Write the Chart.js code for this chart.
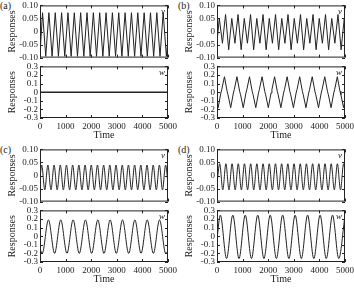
<!DOCTYPE html>
<html>
<head>
<meta charset="utf-8">
<script src="https://cdn.jsdelivr.net/npm/chart.js@4.4.0/dist/chart.umd.min.js"></script>
<style>
  html, body { margin: 0; padding: 0; background: #fff; }
  body { width: 354px; height: 289px; position: relative; overflow: hidden; font-family: "Liberation Serif", "DejaVu Serif", serif; }
  canvas { position: absolute; }
  .tag { position: absolute; font-size: 10px; line-height: 12px; color: #222; }
</style>
</head>
<body>
<div class="tag" style="left:0px;top:0px">(a)</div>
<div class="tag" style="left:178px;top:0px">(b)</div>
<div class="tag" style="left:0px;top:144px">(c)</div>
<div class="tag" style="left:178px;top:144px">(d)</div>

<canvas id="a-v"></canvas><canvas id="a-w"></canvas>
<canvas id="b-v"></canvas><canvas id="b-w"></canvas>
<canvas id="c-v"></canvas><canvas id="c-w"></canvas>
<canvas id="d-v"></canvas><canvas id="d-w"></canvas>

<script>
// EIXOS
const vTicks = [-0.10, -0.05, 0, 0.05, 0.10];
const vTickLabels = ['-0.10', '-0.05', '0', '0.05', '0.10'];
const wTicks = [-0.3, -0.2, -0.1, 0, 0.1, 0.2, 0.3];
const wTickLabels = ['-0.3', '-0.2', '-0.1', '0', '0.1', '0.2', '0.3'];
const timeTicks = [0, 1000, 2000, 3000, 4000, 5000];
const timeTickLabels = ['0', '1000', '2000', '3000', '4000', '5000'];

// (a) - picos e vales
const aVTime = [0, 100, 224, 348, 472, 596, 720, 844, 968, 1092, 1216,
  1340, 1464, 1588, 1712, 1836, 1960, 2084, 2208, 2332, 2456,
  2580, 2704, 2828, 2952, 3076, 3200, 3324, 3448, 3572, 3696,
  3820, 3944, 4068, 4192, 4316, 4440, 4564, 4688, 4812, 4936, 5000];
const aVResp = [-0.085, 0.072, -0.095, 0.072, -0.095, 0.072, -0.095, 0.072, -0.095, 0.072, -0.095,
  0.072, -0.095, 0.072, -0.095, 0.072, -0.095, 0.072, -0.095, 0.072, -0.095,
  0.072, -0.095, 0.072, -0.095, 0.072, -0.095, 0.072, -0.095, 0.072, -0.095,
  0.072, -0.095, 0.072, -0.095, 0.072, -0.095, 0.072, -0.095, 0.072, -0.095, -0.03];
const aWTime = [0, 5000];
const aWResp = [0, 0];

// (b)
const bVTime = [0, 90, 212, 334, 456, 578, 700, 822, 944, 1066, 1188,
  1310, 1432, 1554, 1676, 1798, 1920, 2042, 2164, 2286, 2408,
  2530, 2652, 2774, 2896, 3018, 3140, 3262, 3384, 3506, 3628,
  3750, 3872, 3994, 4116, 4238, 4360, 4482, 4604, 4726, 4848, 4970, 5000];
const bVResp = [-0.04, 0.05, -0.045, 0.065, -0.07, 0.05, -0.045, 0.065, -0.07, 0.05, -0.045,
  0.065, -0.07, 0.05, -0.045, 0.065, -0.07, 0.05, -0.045, 0.065, -0.07,
  0.05, -0.045, 0.065, -0.07, 0.05, -0.045, 0.065, -0.07, 0.05, -0.045,
  0.065, -0.07, 0.05, -0.045, 0.065, -0.07, 0.05, -0.045, 0.065, -0.07, 0.05, 0.03];
const bWTime = [0,
  45, 150, 185, 290, 395, 430,
  535, 640, 675, 780, 885, 920,
  1025, 1130, 1165, 1270, 1375, 1410,
  1515, 1620, 1655, 1760, 1865, 1900,
  2005, 2110, 2145, 2250, 2355, 2390,
  2495, 2600, 2635, 2740, 2845, 2880,
  2985, 3090, 3125, 3230, 3335, 3370,
  3475, 3580, 3615, 3720, 3825, 3860,
  3965, 4070, 4105, 4210, 4315, 4350,
  4455, 4560, 4595, 4700, 4805, 4840,
  4945, 5000];
const bWResp = [-0.12,
  -0.18, -0.01, 0.03, 0.18, 0.01, -0.03,
  -0.18, -0.01, 0.03, 0.18, 0.01, -0.03,
  -0.18, -0.01, 0.03, 0.18, 0.01, -0.03,
  -0.18, -0.01, 0.03, 0.18, 0.01, -0.03,
  -0.18, -0.01, 0.03, 0.18, 0.01, -0.03,
  -0.18, -0.01, 0.03, 0.18, 0.01, -0.03,
  -0.18, -0.01, 0.03, 0.18, 0.01, -0.03,
  -0.18, -0.01, 0.03, 0.18, 0.01, -0.03,
  -0.18, -0.01, 0.03, 0.18, 0.01, -0.03,
  -0.18, -0.01, 0.03, 0.18, 0.01, -0.03,
  -0.18, -0.09];

// (c)
const cVTime = [0, 66, 187, 308, 429, 550, 671, 792, 913, 1034, 1155,
  1276, 1397, 1518, 1639, 1760, 1881, 2002, 2123, 2244, 2365,
  2486, 2607, 2728, 2849, 2970, 3091, 3212, 3333, 3454, 3575,
  3696, 3817, 3938, 4059, 4180, 4301, 4422, 4543, 4664, 4785, 4906, 5000];
const cVResp = [-0.01, 0.04, -0.055, 0.04, -0.055, 0.04, -0.055, 0.04, -0.055, 0.04, -0.055,
  0.04, -0.055, 0.04, -0.055, 0.04, -0.055, 0.04, -0.055, 0.04, -0.055,
  0.04, -0.055, 0.04, -0.055, 0.04, -0.055, 0.04, -0.055, 0.04, -0.055,
  0.04, -0.055, 0.04, -0.055, 0.04, -0.055, 0.04, -0.055, 0.04, -0.055, 0.04, -0.03];
const cWTime = [0, 88, 329, 570, 811, 1052, 1294, 1535, 1776, 2017, 2258,
  2500, 2741, 2982, 3223, 3464, 3705, 3947, 4188, 4429, 4670, 4911, 5000];
const cWResp = [-0.15, -0.2, 0.19, -0.2, 0.19, -0.2, 0.19, -0.2, 0.19, -0.2, 0.19,
  -0.2, 0.19, -0.2, 0.19, -0.2, 0.19, -0.2, 0.19, -0.2, 0.19, -0.2, -0.17];

// (d)
const dVTime = [0, 105, 226, 347, 468, 589, 710, 831, 952, 1073, 1194,
  1315, 1436, 1557, 1678, 1799, 1920, 2041, 2162, 2283, 2404,
  2525, 2646, 2767, 2888, 3009, 3130, 3251, 3372, 3493, 3614,
  3735, 3856, 3977, 4098, 4219, 4340, 4461, 4582, 4703, 4824, 4945, 5000];
const dVResp = [-0.03, 0.045, -0.055, 0.045, -0.055, 0.045, -0.055, 0.045, -0.055, 0.045, -0.055,
  0.045, -0.055, 0.045, -0.055, 0.045, -0.055, 0.045, -0.055, 0.045, -0.055,
  0.045, -0.055, 0.045, -0.055, 0.045, -0.055, 0.045, -0.055, 0.045, -0.055,
  0.045, -0.055, 0.045, -0.055, 0.045, -0.055, 0.045, -0.055, 0.045, -0.055, 0.045, 0.02];
const dWTime = [0, 130, 373, 617, 860, 1104, 1347, 1591, 1834, 2078, 2321,
  2565, 2808, 3052, 3295, 3539, 3782, 4026, 4269, 4513, 4756, 5000];
const dWResp = [-0.03, 0.245, -0.26, 0.245, -0.26, 0.245, -0.26, 0.245, -0.26, 0.245, -0.26,
  0.245, -0.26, 0.245, -0.26, 0.245, -0.26, 0.245, -0.26, 0.245, -0.26, 0.245];

const INK = '#222';
const FONT = '"Liberation Serif", "DejaVu Serif", serif';
Chart.defaults.font.family = FONT;
Chart.defaults.font.size = 9;
Chart.defaults.color = INK;

// Moldura com ticks para dentro + letra no canto
const moldura = {
  id: 'moldura',
  afterDatasetsDraw(chart, args, opts) {
    const { ctx, chartArea: a, scales } = chart;
    ctx.save();
    ctx.strokeStyle = INK;
    ctx.lineWidth = 1;
    ctx.strokeRect(a.left + 0.5, a.top + 0.5, a.width - 1, a.height - 1);
    ctx.beginPath();
    scales.x.ticks.forEach(t => {
      const px = Math.round(scales.x.getPixelForValue(t.value)) + 0.5;
      ctx.moveTo(px, a.bottom); ctx.lineTo(px, a.bottom - 3);
      ctx.moveTo(px, a.top); ctx.lineTo(px, a.top + 3);
    });
    scales.y.ticks.forEach(t => {
      const py = Math.round(scales.y.getPixelForValue(t.value)) + 0.5;
      ctx.moveTo(a.left, py); ctx.lineTo(a.left + 3, py);
      ctx.moveTo(a.right, py); ctx.lineTo(a.right - 3, py);
    });
    ctx.stroke();
    ctx.font = 'italic 9px ' + FONT;
    ctx.fillStyle = INK;
    ctx.textAlign = 'right';
    ctx.textBaseline = 'top';
    ctx.fillText(opts.letra, a.right - 3, a.top + 2);
    ctx.restore();
  }
};

function desenhar(id, tempos, valores, cfg) {
  const canvas = document.getElementById(id);
  const ehW = cfg.tipo === 'w';
  const ticks = ehW ? wTicks : vTicks;
  const labels = ehW ? wTickLabels : vTickLabels;
  const pad = ehW ? { top: 7, right: 12, bottom: 0, left: 0 } : { top: 7, right: 4, bottom: 6, left: 0 };
  const alturaArea = ehW ? 52 : 54;
  canvas.width = ehW ? 180 : 172;
  canvas.height = pad.top + alturaArea + (ehW ? 23 : pad.bottom);
  canvas.style.left = cfg.x + 'px';
  canvas.style.top = (cfg.y + (ehW ? 66 : 5) - pad.top) + 'px';

  new Chart(canvas, {
    type: 'line',
    data: {
      datasets: [{
        data: tempos.map((t, i) => ({ x: t, y: valores[i] })),
        borderColor: INK,
        borderWidth: cfg.espessura || 1,
        pointRadius: 0,
        cubicInterpolationMode: cfg.reto ? 'default' : 'monotone',
        tension: 0
      }]
    },
    options: {
      responsive: false,
      animation: false,
      devicePixelRatio: 1,
      layout: { padding: pad },
      plugins: { legend: { display: false }, tooltip: { enabled: false }, moldura: { letra: cfg.tipo } },
      scales: {
        x: {
          type: 'linear', min: 0, max: 5000,
          display: ehW,
          afterBuildTicks: s => { s.ticks = timeTicks.map(v => ({ value: v })); },
          afterFit: s => { s.height = ehW ? 23 : 0; },
          grid: { display: false, drawTicks: false, tickLength: 0 },
          border: { display: false },
          ticks: { padding: 3, maxRotation: 0, autoSkip: false, callback: (v, i) => timeTickLabels[i] },
          title: { display: true, text: 'Time', font: { size: 10 }, padding: 0 }
        },
        y: {
          type: 'linear', min: ticks[0], max: ticks[ticks.length - 1],
          afterBuildTicks: s => { s.ticks = ticks.map(v => ({ value: v })); },
          afterFit: s => { s.width = 40; },
          grid: { display: false, drawTicks: false, tickLength: 0 },
          border: { display: false },
          ticks: { padding: 2, autoSkip: false, callback: (v, i) => labels[i] },
          title: { display: true, text: 'Responses', font: { size: 10 }, padding: { top: 6, bottom: 0 } }
        }
      }
    },
    plugins: [moldura]
  });
}

// POSICOES DOS PAINEIS
const colunas = [0, 177];
const linhas = [0, 144];

desenhar('a-v', aVTime, aVResp, { tipo: 'v', x: colunas[0], y: linhas[0], reto: true });
desenhar('a-w', aWTime, aWResp, { tipo: 'w', x: colunas[0], y: linhas[0], espessura: 1.5 });
desenhar('b-v', bVTime, bVResp, { tipo: 'v', x: colunas[1], y: linhas[0], reto: true });
desenhar('b-w', bWTime, bWResp, { tipo: 'w', x: colunas[1], y: linhas[0], reto: true });
desenhar('c-v', cVTime, cVResp, { tipo: 'v', x: colunas[0], y: linhas[1] });
desenhar('c-w', cWTime, cWResp, { tipo: 'w', x: colunas[0], y: linhas[1] });
desenhar('d-v', dVTime, dVResp, { tipo: 'v', x: colunas[1], y: linhas[1] });
desenhar('d-w', dWTime, dWResp, { tipo: 'w', x: colunas[1], y: linhas[1] });
</script>
</body>
</html>
